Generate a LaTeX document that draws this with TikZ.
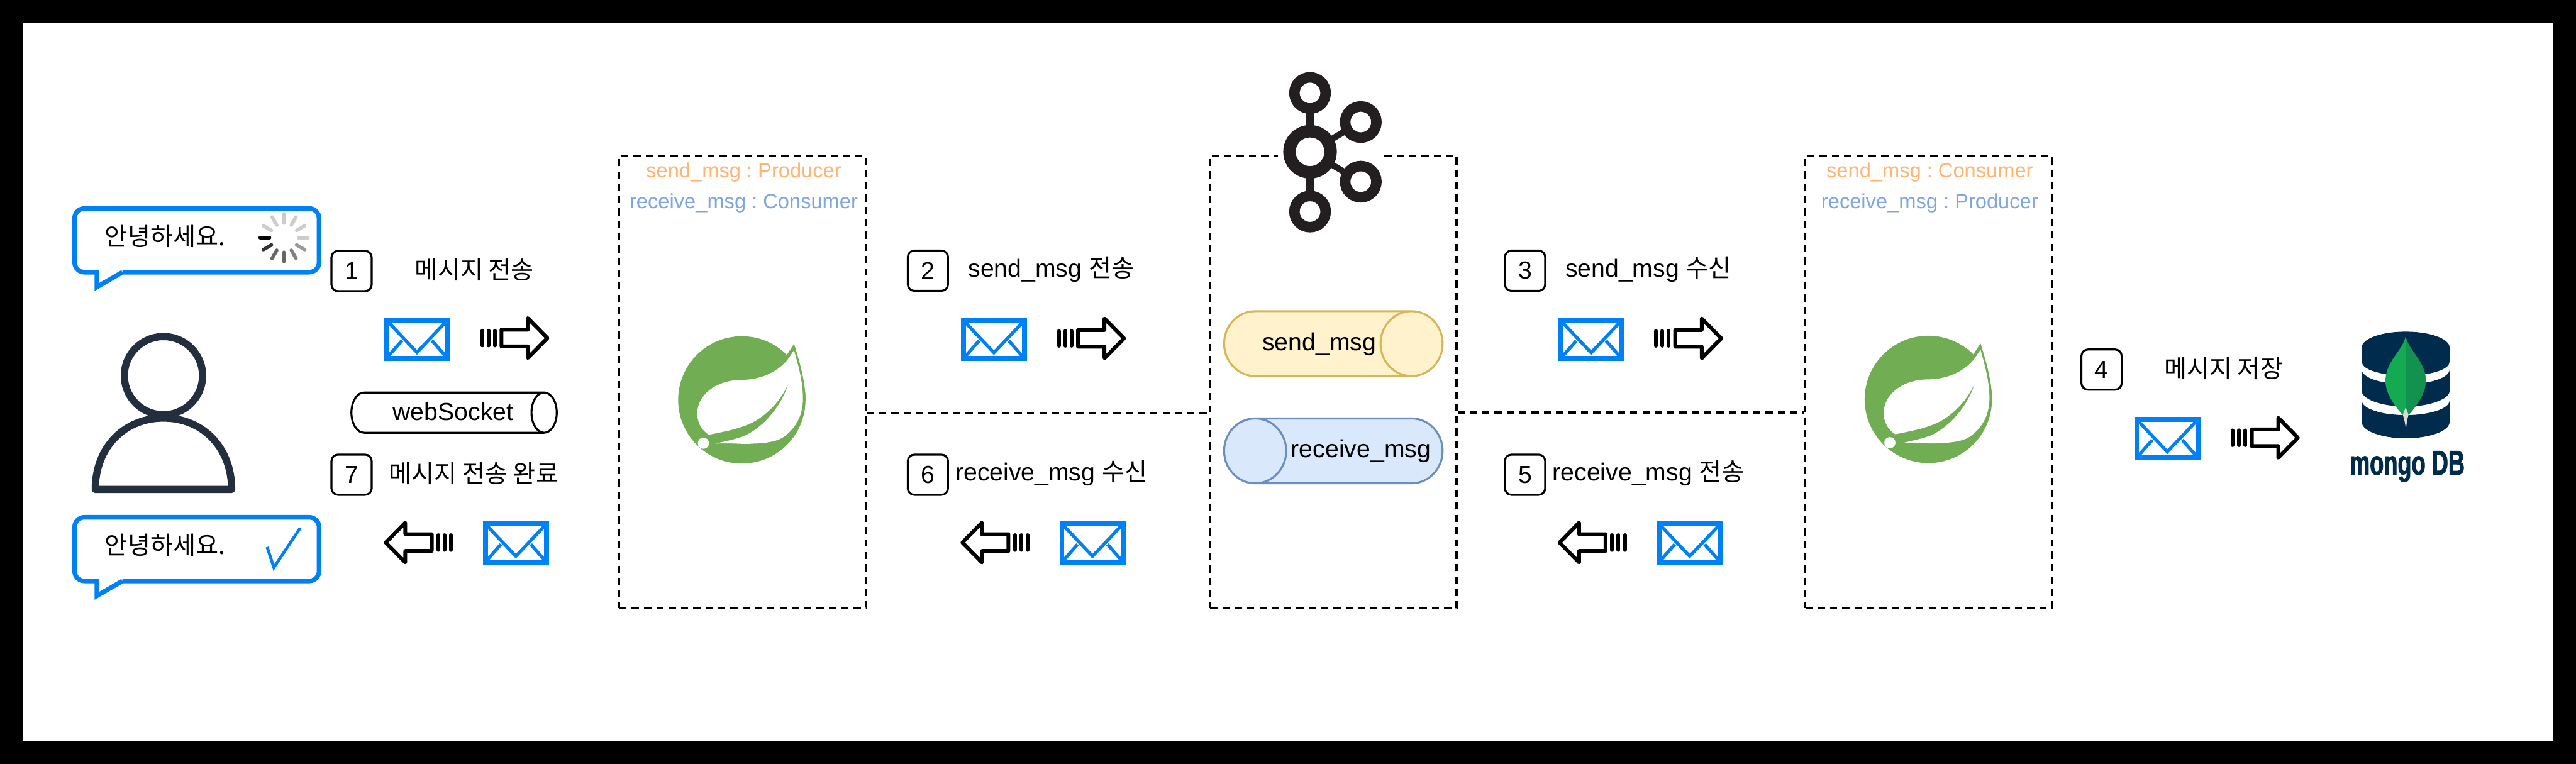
\documentclass[tikz,border=0pt]{standalone}
\usepackage{fontspec}
\usepackage{xcolor}
\usepackage{tikz}
\usetikzlibrary{positioning,shapes.geometric,calc}
\setmainfont{Liberation Sans}
\newfontfamily\krfont{Noto Sans CJK KR}
\newfontfamily\mongofont[FakeStretch=0.66,FakeBold=1.5]{Liberation Sans Bold}
\frenchspacing
\definecolor{mailblue}{HTML}{0080F5}
\definecolor{sendtone}{HTML}{FFB570}
\definecolor{receivetone}{HTML}{7EA6E0}
\definecolor{sendfill}{HTML}{FFF2CC}
\definecolor{sendline}{HTML}{D6B656}
\definecolor{receivefill}{HTML}{DAE8FC}
\definecolor{receiveline}{HTML}{6C8EBF}
\definecolor{springgreen}{HTML}{71AD52}
\definecolor{mongonavy}{HTML}{012B4D}
\definecolor{personink}{HTML}{232F3E}
\definecolor{kafkaink}{HTML}{231F20}
\definecolor{leaflight}{HTML}{13AA52}
\definecolor{leafdark}{HTML}{13924F}

\tikzset{
  mailicon/.pic={
    \draw[mailblue,line width=3pt,miter limit=4] (-18.6,-11.6) rectangle (18.6,11.6);
    \draw[mailblue,line width=2pt] (-18.6,-11.6) -- (0,8) -- (18.6,-11.6);
    \draw[mailblue,line width=2pt] (-18.6,11.6) -- (-9.1,0.8);
    \draw[mailblue,line width=2pt] (18.6,11.6) -- (9.1,0.8);
  },
  pushicon/.pic={
    \foreach \barx in {-20,-16.15,-12.3}
      \draw[line width=2.3pt,line cap=round] (\barx,-4.5) -- (\barx,4.5);
    \draw[line width=2.3pt,line join=round] (-8.3,-5.1) -- (7.8,-5.1) -- (7.8,-12.1) -- (19.7,0) -- (7.8,12.1) -- (7.8,5.1) -- (-8.3,5.1) -- cycle;
  },
  bubbleicon/.pic={
    \draw[mailblue,line width=2.8pt,rounded corners=6pt] (15,40.2) -- (1.4,40.2) -- (1.4,1.4) -- (150.2,1.4) -- (150.2,40.2) -- (30.5,40.2);
    \draw[mailblue,line width=2.8pt,line join=miter] (15,39) -- (15,49.2) -- (30.5,40.2);
  },
  springleaf/.pic={
    \begin{scope}[x=0.775pt,y=-0.775pt]
      \fill[springgreen] (50,50) circle[radius=50];
      \fill[springgreen] (85.4,14.6) -- (91,6) .. controls (96,22) and (100,37) .. (100,50) -- cycle;
      \fill[white] (85.7,18.8) .. controls (78,28) and (65,34.3) .. (49.3,34.3) .. controls (30,34.5) and (15,46) .. (15,60.6) .. controls (15,69) and (19,74) .. (24,77.4) .. controls (36,75) and (47,73) .. (57.4,68.2) .. controls (70,62) and (81,50) .. (86.5,37.2) .. controls (83,50) and (71,69) .. (52.7,78) .. controls (44,81.5) and (36,82.5) .. (29.5,84.4) .. controls (40,83.5) and (50,85) .. (57.4,84.4) .. controls (72,84) and (80,82) .. (85,77.4) .. controls (94,70) and (98,60) .. (98,49) .. controls (98,35) and (94,22) .. (91,11) -- cycle;
      \fill[white] (19.8,84) circle[radius=4.4];
    \end{scope}
  },
  mongostack/.pic={
    \fill[mongonavy] (-26.7,9.6) .. controls (-26.7,4.3) and (-14.7,0) .. (0,0) .. controls (14.7,0) and (26.7,4.3) .. (26.7,9.6) -- (26.7,18.4) .. controls (26.7,23.1) and (14.7,26.8) .. (0,26.8) .. controls (-14.7,26.8) and (-26.7,23.1) .. (-26.7,18.4) -- cycle;
    \fill[mongonavy] (-26.7,23.1) .. controls (-26.7,28.1) and (-14.7,32) .. (0,32) .. controls (14.7,32) and (26.7,28.1) .. (26.7,23.1) -- (26.7,36.2) .. controls (26.7,41) and (14.7,45.6) .. (0,45.6) .. controls (-14.7,45.6) and (-26.7,41) .. (-26.7,36.2) -- cycle;
    \fill[mongonavy] (-26.7,41.9) .. controls (-26.7,46.9) and (-14.7,50.8) .. (0,50.8) .. controls (14.7,50.8) and (26.7,46.9) .. (26.7,41.9) -- (26.7,55) .. controls (26.7,60.5) and (14.7,64.9) .. (0,64.9) .. controls (-14.7,64.9) and (-26.7,60.5) .. (-26.7,55) -- cycle;
    \fill[white!70!gray] (0,46) -- (1.7,50.8) .. controls (1,53) and (0.6,55) .. (0.4,57.9) -- (-0.1,57.9) .. controls (-0.4,55) and (-1,53) .. (-1.7,50.8) -- cycle;
    \fill[leaflight] (0,2.8) .. controls (-2,12) and (-12.3,18) .. (-12.3,30) .. controls (-12.3,38) and (-6,46) .. (-1.8,50.8) -- (0,46) -- cycle;
    \fill[leafdark] (0,2.8) .. controls (2,12) and (12.3,18) .. (12.3,30) .. controls (12.3,38) and (6,46) .. (1.8,50.8) -- (0,46) -- cycle;
  },
  kafkaicon/.pic={
    \draw[kafkaink,line width=5.6pt] (0,-36) -- (0,36);
    \draw[kafkaink,line width=3.8pt] (0,0) -- (30.9,-18.1);
    \draw[kafkaink,line width=3.8pt] (0,0) -- (30.9,18.2);
    \draw[kafkaink,line width=7.6pt,fill=white] (0,0) circle[radius=12.5];
    \foreach \ringx/\ringy in {0/-35.8,0/36.4,30.9/-18.1,30.9/18.2}
      \draw[kafkaink,line width=6.4pt,fill=white] (\ringx,\ringy) circle[radius=9.5];
  },
  spinnericon/.pic={
    \foreach \ang/\tone in {180/black,150/black!80,120/black!60,90/black!60,60/black!50,30/black!40,0/black!20,-30/black!20,-60/black!20,-90/black!20,-120/black!20,-150/black!20}
      \draw[\tone,line width=2.1pt,line cap=round] (\ang:8.8) -- (\ang:14.6);
  }
}

\begin{document}
\begin{tikzpicture}[
    x=1pt,y=-1pt,
    hosttext/.style={font=\fontsize{15}{18}\selectfont,inner sep=0pt},
    steptext/.style={hosttext,yshift=0.8pt},
    roletext/.style={font=\fontsize{12.5}{15}\selectfont,inner sep=0pt},
    stepbox/.style={draw,rounded corners=4pt,line width=1.2pt,minimum width=24.5pt,minimum height=24.5pt,inner sep=0pt,font=\fontsize{15}{18}\selectfont},
    hostbox/.style={draw,dashed,dash pattern=on 4.4pt off 3.1pt,line width=1.25pt,minimum width=150pt,minimum height=275.5pt,inner sep=0pt},
    linkline/.style={dashed,dash pattern=on 4.4pt off 3.1pt,line width=1.25pt},
    pipebox/.style={cylinder,anchor=shape center,draw,line width=1.2pt,inner sep=0pt,outer sep=0pt}
  ]
    \useasboundingbox (0,0) rectangle (1568,465);
    \fill[black] (0,0) rectangle (1568,465);
    \fill[white] (13.8,13.8) rectangle (1554.3,451.2);

    \node[hostbox] (producer) at (452,232.6) {};
    \node[hostbox] (kafkabox) at (811.6,232.5) {};
    \node[hostbox] (consumer) at (1173.9,232.5) {};
    \node[fill=white,minimum width=63.6pt,minimum height=95pt,inner sep=0pt] (kafkaback) at (809.6,92.5) {};

    \coordinate (tapleft) at ($(producer.east)+(0,18.6)$);
    \coordinate (tapright) at ($(consumer.west)+(0,18.6)$);
    \draw[linkline] (tapleft) -- (tapleft -| kafkabox.west);
    \draw[linkline] (tapright -| kafkabox.east) -- (tapright);

    \pic at (44,125.5) {bubbleicon};
    \pic at (44,313.5) {bubbleicon};
    \node[hosttext] (hellowait) at (100.5,144) {\krfont 안녕하세요.};
    \node[hosttext] (hellodone) at (100.5,332) {\krfont 안녕하세요.};
    \pic at (172.9,144.7) {spinnericon};
    \draw[mailblue,line width=1.8pt] (162.6,333) -- (166.7,345.5) -- (182.7,321.5);

    \draw[personink,line width=4.4pt] (99.5,228.7) circle[radius=23.8];
    \draw[personink,line width=4.4pt,line join=round,fill=white] (58,298) .. controls (58,272) and (76,254.5) .. (99.5,254.5) .. controls (123,254.5) and (141,272) .. (141,298) -- cycle;

    \node[stepbox] (stepone) at (214,165) {1};
    \node[stepbox] (stepseven) at (214,289) {7};
    \node[stepbox] (steptwo) at (564.8,164.8) {2};
    \node[stepbox] (stepsix) at (564.8,289) {6};
    \node[stepbox] (stepthree) at (928.3,164.8) {3};
    \node[stepbox] (stepfive) at (928.3,289) {5};
    \node[stepbox] (stepfour) at (1279.2,225) {4};

    \node[steptext,right=25.6pt of stepone] (sendtext) {\krfont 메시지 전송};
    \node[steptext,right=9.6pt of stepseven] (donetext) {\krfont 메시지 전송 완료};
    \node[steptext,right=11.5pt of steptwo] (pushtext) {send\_msg {\krfont 전송}};
    \node[steptext,right=3.7pt of stepsix] (polltext) {receive\_msg {\krfont 수신}};
    \node[steptext,right=11.5pt of stepthree] (pulltext) {send\_msg {\krfont 수신}};
    \node[steptext,right=3.7pt of stepfive] (replytext) {receive\_msg {\krfont 전송}};
    \node[steptext,right=25pt of stepfour] (savetext) {\krfont 메시지 저장};

    \pic at (253.8,206.5) {mailicon};
    \pic at (605,206.7) {mailicon};
    \pic at (968.5,206.7) {mailicon};
    \pic at (1319.2,267) {mailicon};
    \pic at (314,330.6) {mailicon};
    \pic at (665,330.6) {mailicon};
    \pic at (1028.5,330.6) {mailicon};

    \pic at (313.5,205.8) {pushicon};
    \pic at (664.5,206) {pushicon};
    \pic at (1028,206) {pushicon};
    \pic at (1379,266.5) {pushicon};
    \pic[rotate=180] at (254.5,330.3) {pushicon};
    \pic[rotate=180] at (605.5,330.3) {pushicon};
    \pic[rotate=180] at (969,330.3) {pushicon};

    \node[pipebox,shape aspect=1.1,minimum width=24.5pt,minimum height=125pt] (websocket) at (276.4,251.2) {\rule{0pt}{14pt}};
    \node[hosttext] (websocketlabel) at (275.8,250.5) {webSocket};

    \node[pipebox,draw=sendline,shape aspect=2.7,cylinder uses custom fill,cylinder end fill=sendfill,cylinder body fill=sendfill,minimum width=39.5pt,minimum height=133pt] (sendpipe) at (811.6,209.2) {\rule{0pt}{14pt}};
    \node[hosttext] (sendlabel) at (803,209.5) {send\_msg};
    \node[pipebox,draw=receiveline,shape border rotate=180,shape aspect=2.7,cylinder uses custom fill,cylinder end fill=receivefill,cylinder body fill=receivefill,minimum width=39.5pt,minimum height=133pt] (receivepipe) at (811.6,274.5) {\rule{0pt}{14pt}};
    \node[hosttext] (receivelabel) at (828.4,274.6) {receive\_msg};

    \node[roletext,text=sendtone] (senderrole) at (452.7,105) {send\_msg : Producer};
    \node[roletext,text=receivetone] (receiverrole) at (452.7,123.8) {receive\_msg : Consumer};
    \node[roletext,text=sendtone] (readerrole) at (1174.6,104.9) {send\_msg : Consumer};
    \node[roletext,text=receivetone] (writerrole) at (1174.6,123.8) {receive\_msg : Producer};

    \pic at (412.8,204.7) {springleaf};
    \pic at (1135,204.4) {springleaf};
    \pic at (797.4,92.4) {kafkaicon};
    \pic at (1464.3,201.9) {mongostack};
    \node[inner sep=0pt,text=mongonavy,font=\mongofont\fontsize{21}{24}\selectfont] (mongolabel) at (1465.2,284) {mongo DB};
  \end{tikzpicture}
\end{document}
